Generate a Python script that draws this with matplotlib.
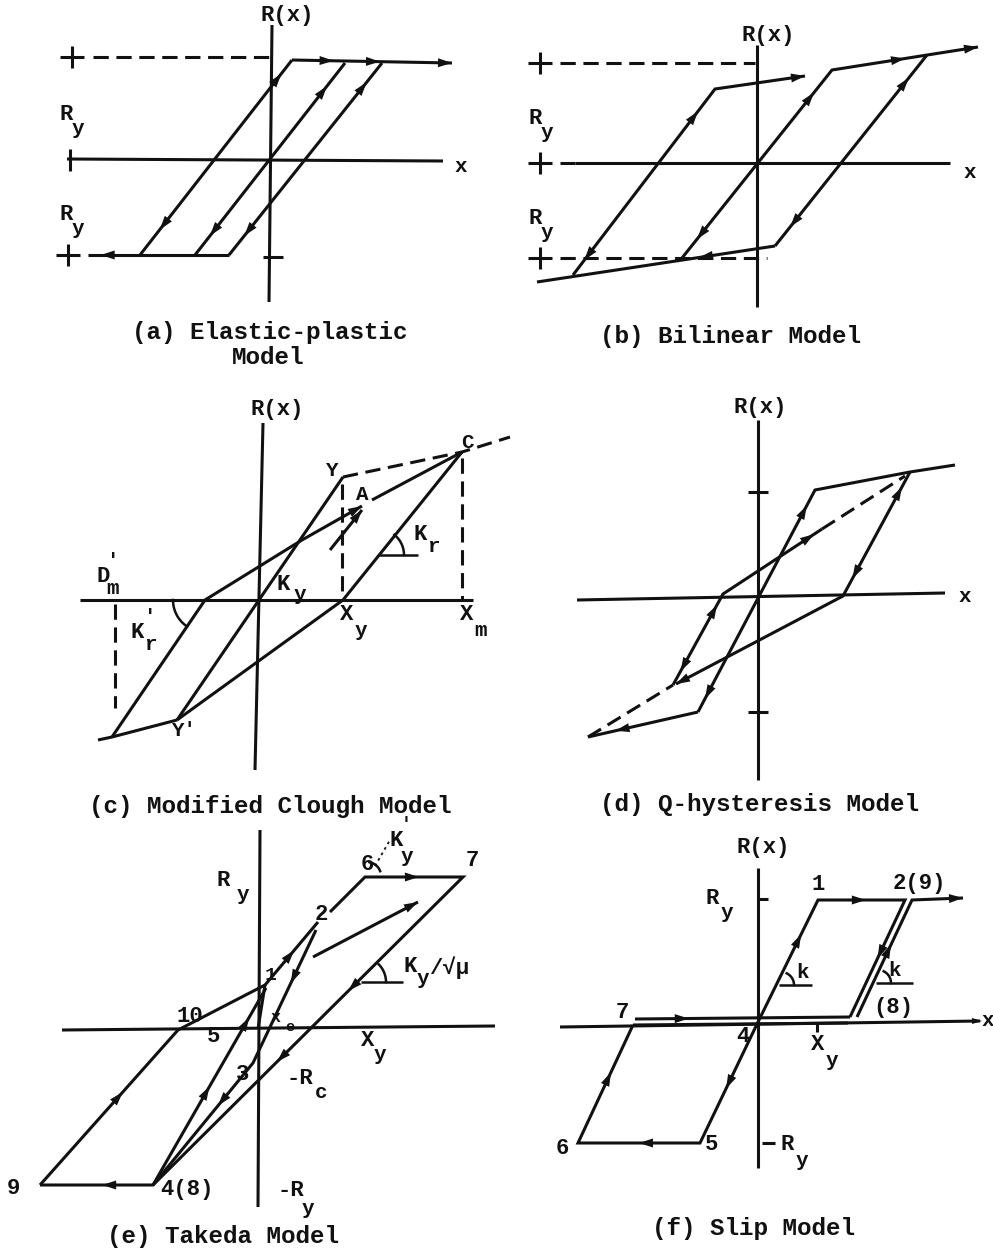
import numpy as np
import matplotlib.pyplot as plt

# ---- (a) elastic-plastic ----
A_AXES = [[(272, 25), (269, 302)], [(67, 159), (443, 161)]]
A_DASH = [[(93, 57), (273, 57)]]
A_CROSS = [(72, 57), (68, 255)]
A_LINES = [[(229, 255), (88, 255)], [(292, 60), (452, 63)],
           [(140, 255), (292, 60)], [(195, 255), (345, 63)], [(229, 255), (382, 63)]]
# (line, position, reversed)
A_HEADS = [(0, 0.91, 0), (1, 1.0, 0), (1, 0.26, 0), (1, 0.55, 0),
           (2, 0.93, 0), (2, 0.13, 1), (3, 0.88, 0), (3, 0.1, 1), (4, 0.9, 0), (4, 0.1, 1)]

# ---- (b) bilinear ----
B_AXES = [[(757, 45), (757, 307)], [(575, 163), (950, 163)]]
B_DASH = [[(560, 63), (755, 63)], [(560, 163), (575, 163)], [(560, 258), (767, 258)]]
B_CROSS = [(540, 63), (540, 163), (540, 258)]
B_LINES = [[(573, 275), (715, 89), (805, 76)], [(682, 258), (832, 70), (978, 47)],
           [(927, 55), (775, 246)], [(537, 282), (775, 246)]]
# (line, segment, position, reversed)
B_HEADS = [(0, 0, 0.88, 0), (0, 0, 0.08, 1), (0, 1, 1.0, 0), (1, 0, 0.88, 0), (1, 0, 0.1, 1),
           (1, 1, 0.5, 0), (1, 1, 1.0, 0), (2, 0, 0.12, 1), (2, 0, 0.9, 0), (3, 0, 0.68, 1)]

# ---- (c) modified Clough ----
C_AXES = [[(263, 423), (255, 770)], [(80, 600), (473, 600)]]
C_LINES = [[(343, 477), (177, 720)], [(177, 720), (112, 737), (98, 740)],
           [(462, 452), (343, 600), (177, 720)], [(112, 737), (205, 600), (302, 540), (362, 506)],
           [(372, 500), (462, 452)], [(330, 550), (362, 510)]]
C_DASH = [[(343, 477), (462, 452), (510, 437)], [(342, 484), (342, 600)],
          [(462, 458), (462, 600)], [(115, 604), (115, 708)]]

# ---- (d) Q-hysteresis ----
D_AXES = [[(758, 420), (758, 780)], [(577, 600), (945, 593)]]
D_TICKS = [492, 712]
D_LINES = [[(698, 712), (815, 490), (910, 472), (955, 465)], [(910, 472), (843, 596), (676, 684)],
           [(698, 712), (588, 737)], [(673, 685), (723, 594), (822, 529)]]
D_DASH = [[(588, 737), (673, 685)], [(822, 529), (905, 476)]]

# ---- (e) Takeda ----
E_AXES = [[(260, 830), (258, 1207)], [(62, 1030), (495, 1026)]]
E_LINES = [[(40, 1185), (178, 1030), (265, 985), (318, 922)],
           [(330, 912), (365, 877), (463, 877), (153, 1185), (40, 1185)],
           [(316, 930), (253, 1063), (153, 1185)], [(153, 1185), (266, 988)],
           [(258, 1029), (265, 985)], [(313, 957), (418, 902)]]

# ---- (f) slip ----
F_AXES = [[(758, 868), (758, 1168)], [(560, 1027), (980, 1021)]]
F_LINES = [[(758, 1022), (818, 900), (905, 900), (850, 1017)],
           [(857, 1017), (912, 900), (963, 898)],
           [(635, 1019), (850, 1017)], [(633, 1025), (848, 1023)],
           [(758, 1022), (700, 1143), (578, 1143), (633, 1025)]]

CAPTIONS = [(270, 333, "(a) Elastic-plastic"), (268, 358, "Model"),
            (730, 337, "(b) Bilinear Model"), (270, 806, "(c) Modified Clough Model"),
            (760, 805, "(d) Q-hysteresis Model"), (223, 1236, "(e) Takeda Model"),
            (753, 1228, "(f) Slip Model")]

INK = '#111111'
LW = 2.2

plt.rcParams['font.family'] = ['Liberation Mono', 'DejaVu Sans Mono']
plt.rcParams['font.weight'] = 'bold'

fig = plt.figure(figsize=(9.93, 12.5), dpi=100)
ax = fig.add_axes([0, 0, 1, 1])
ax.set_xlim(0, 993)
ax.set_ylim(1250, 0)
ax.axis('off')


def line(pts, dashed=False, lw=LW):
    xs, ys = zip(*pts)
    ax.plot(xs, ys, color=INK, lw=lw, ls=(0, (5, 2.5)) if dashed else '-',
            solid_capstyle='butt', solid_joinstyle='miter')


def head(p, q, t=1.0, size=14, width=4.5):
    p = np.asarray(p, float)
    q = np.asarray(q, float)
    d = (q - p) / np.linalg.norm(q - p)
    n = np.array([-d[1], d[0]])
    tip = p + (q - p) * t
    base = tip - d * size
    tri = np.array([tip, base + n * width, base - n * width])
    ax.fill(tri[:, 0], tri[:, 1], color=INK, lw=0)


def seg_head(pts, i, t, back=False):
    # arrowhead on segment i of a polyline, optionally pointing backwards
    p, q = pts[i], pts[i + 1]
    if back:
        p, q, t = q, p, 1 - t
    head(p, q, t)


def txt(x, y, s, size=16, **kw):
    ax.text(x, y, s, fontsize=size, ha='center', va='center', color=INK, **kw)


def sub(x, y, main, low, size=16, dx=13, dy=13):
    txt(x, y, main, size)
    txt(x + dx, y + dy, low, size - 1)


def cross(x, y, h=11, w=12):
    line([(x, y - h), (x, y + h)])
    line([(x - w, y), (x + w, y)])


def arc(cx, cy, r, a0, a1):
    th = np.radians(np.linspace(a0, a1, 30))
    ax.plot(cx + r * np.cos(th), cy - r * np.sin(th), color=INK, lw=1.8)


# (a)
for pts in A_AXES + A_LINES:
    line(pts)
for pts in A_DASH:
    line(pts, dashed=True)
for x, y in A_CROSS:
    cross(x, y)
line([(70, 149), (70, 171)])
line([(263, 257), (283, 257)])
for i, t, back in A_HEADS:
    seg_head(A_LINES[i], 0, t, bool(back))
txt(287, 15, "R(x)")
sub(66, 114, "R", "y", dx=12, dy=15)
sub(66, 214, "R", "y", dx=12, dy=15)
txt(461, 167, "x", 15)

# (b)
for pts in B_AXES + B_LINES:
    line(pts)
for pts in B_DASH:
    line(pts, dashed=True)
for x, y in B_CROSS:
    cross(x, y)
for i, s, t, back in B_HEADS:
    seg_head(B_LINES[i], s, t, bool(back))
txt(768, 35, "R(x)")
sub(535, 118, "R", "y", dx=12, dy=15)
sub(535, 218, "R", "y", dx=12, dy=15)
txt(970, 173, "x", 15)

# (c)
for pts in C_AXES + C_LINES:
    line(pts)
for pts in C_DASH:
    line(pts, dashed=True)
seg_head(C_LINES[3], 2, 1.0)
seg_head(C_LINES[5], 0, 1.0)
line([(378, 555), (418, 555)], lw=1.8)
arc(378, 555, 26, 0, 51)
arc(205, 600, 32, 180, 236)
txt(277, 410, "R(x)")
txt(332, 470, "Y", 15)
txt(467, 443, "C", 15)
txt(362, 494, "A", 15)
sub(420, 534, "K", "r", dx=13, dy=12)
sub(103, 577, "D", "m", dx=10, dy=12)
txt(113, 562, "'", 15)
sub(283, 585, "K", "y", dx=17, dy=10)
sub(137, 633, "K", "r", dx=13, dy=12)
txt(150, 617, "'", 15)
sub(347, 615, "X", "y", dx=14, dy=16)
sub(467, 614, "X", "m", dx=14, dy=16)
txt(184, 731, "Y'", 15)

# (d)
for pts in D_AXES + D_LINES:
    line(pts)
for pts in D_DASH:
    line(pts, dashed=True)
for y in D_TICKS:
    line([(748, y), (768, y)])
seg_head(D_LINES[0], 0, 0.93)
seg_head(D_LINES[0], 0, 0.06, back=True)
seg_head(D_LINES[1], 0, 0.86)
seg_head(D_LINES[1], 0, 0.12, back=True)
seg_head(D_LINES[1], 1, 1.0)
seg_head(D_LINES[2], 0, 0.75)
seg_head(D_LINES[3], 0, 0.88)
seg_head(D_LINES[3], 0, 0.15, back=True)
seg_head(D_LINES[3], 1, 0.92)
txt(760, 408, "R(x)")
txt(965, 596, "x", 15)

# (e)
for pts in E_AXES + E_LINES:
    line(pts)
seg_head(E_LINES[0], 0, 0.6)
seg_head(E_LINES[0], 2, 0.55)
seg_head(E_LINES[1], 1, 0.55)
seg_head(E_LINES[1], 2, 0.37)
seg_head(E_LINES[1], 2, 0.6)
seg_head(E_LINES[1], 3, 0.45)
seg_head(E_LINES[2], 0, 0.4)
seg_head(E_LINES[2], 1, 0.35)
seg_head(E_LINES[3], 0, 0.5)
seg_head(E_LINES[3], 0, 0.85)
seg_head(E_LINES[5], 0, 1.0)
line([(361, 982), (403, 982)], lw=1.8)
arc(361, 982, 25, 0, 45)
arc(367, 876, 14, 20, 80)
ax.plot([375, 390], [866, 840], color=INK, lw=1.3, ls=(0, (1.5, 2)))
txt(13, 1189, "9")
txt(187, 1190, "4(8)")
txt(190, 1016, "10")
txt(214, 1037, "5")
txt(243, 1074, "3")
txt(271, 975, "1", 14)
txt(321, 915, "2")
txt(367, 864, "6")
txt(472, 860, "7")
txt(276, 1018, "x", 12)
txt(290, 1027, "e", 11)
sub(223, 881, "R", "y", dx=20, dy=14)
sub(396, 841, "K", "y", dx=11, dy=15)
txt(406, 824, "'", 13)
sub(410, 966, "K", "y", dx=13, dy=12)
txt(449, 968, "/√μ", 16)
txt(300, 1078, "-R")
txt(321, 1093, "c", 15)
txt(291, 1190, "-R")
txt(308, 1209, "y", 15)
sub(368, 1040, "X", "y", dx=12, dy=15)

# (f)
for pts in F_AXES + F_LINES:
    line(pts)
head((960, 1021), (982, 1021), size=10, width=3)
line([(758, 899), (768, 899)])
line([(762, 1143), (775, 1143)])
line([(817, 1022), (817, 1032)])
seg_head(F_LINES[0], 0, 0.72)
seg_head(F_LINES[0], 1, 0.55)
seg_head(F_LINES[0], 2, 0.5)
seg_head(F_LINES[1], 0, 0.62)
seg_head(F_LINES[1], 1, 1.0)
seg_head(F_LINES[2], 0, 0.25)
seg_head(F_LINES[4], 0, 0.55)
seg_head(F_LINES[4], 1, 0.5)
seg_head(F_LINES[4], 2, 0.6)
line([(779, 985), (812, 985)], lw=1.8)
arc(781, 985, 13, 0, 64)
line([(876, 983), (913, 983)], lw=1.8)
arc(878, 983, 13, 0, 64)
txt(763, 848, "R(x)")
sub(712, 899, "R", "y", dx=15, dy=14)
txt(818, 884, "1")
txt(919, 883, "2(9)")
txt(803, 972, "k", 15)
txt(894, 970, "k", 15)
txt(893, 1007, "(8)")
txt(622, 1012, "7")
txt(743, 1037, "4")
sub(818, 1045, "X", "y", dx=14, dy=15)
txt(712, 1145, "5")
txt(562, 1148, "6")
sub(787, 1145, "R", "y", dx=15, dy=15)
txt(988, 1020, "x", 15)

for x, y, s in CAPTIONS:
    txt(x, y, s, 17.5)

fig.savefig('out.png', dpi=100)
